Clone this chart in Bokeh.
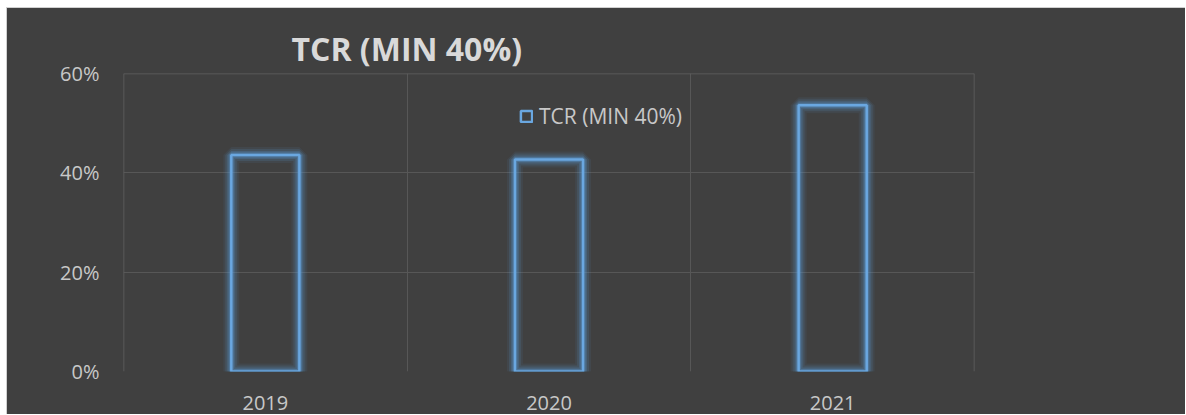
from bokeh.plotting import figure
from bokeh.models import (Range1d, FixedTicker, NumeralTickFormatter, Legend,
                          LegendItem, ColumnDataSource, Span)
from bokeh.embed import file_html
from bokeh.resources import INLINE

years = ["2019", "2020", "2021"]
tcr = [0.436, 0.427, 0.536]
y_ticks = [0.0, 0.2, 0.4, 0.6]
series_name = "TCR (MIN 40%)"

BG = "#404040"
BLUE = "#5B9BD5"
TXT = "#c8c8c8"
GRID = "#575757"
EDGE = "#606060"

xpos = [i + 0.5 for i in range(len(years))]
src = ColumnDataSource(dict(x=xpos, top=tcr, year=years))

xr = Range1d(0, len(years))
yr = Range1d(0, y_ticks[-1])

p = figure(width=1179, height=407, output_backend="svg", toolbar_location=None,
           x_range=xr, y_range=yr,
           background_fill_color=None, border_fill_color=None,
           min_border_left=116, min_border_right=212,
           min_border_top=65, min_border_bottom=44,
           outline_line_color=None, margin=(7, 0, 0, 6),
           styles={"border-top": "1px solid #d0d0d0",
                   "border-left": "1px solid #d0d0d0",
                   "background-color": BG})

# glow layers
for lw, a in [(16, 0.08), (12, 0.14), (8, 0.22), (5, 0.35)]:
    p.vbar(x="x", top="top", width=0.24, bottom=0, source=src,
           fill_alpha=0, line_color=BLUE, line_alpha=a, line_width=lw)
main = p.vbar(x="x", top="top", width=0.24, bottom=0, source=src,
              fill_alpha=0, line_color="#6aa7e0", line_width=2.5)

# axes
p.xaxis[0].ticker = FixedTicker(ticks=xpos)
p.xaxis[0].major_label_overrides = {x: y for x, y in zip(xpos, years)}
p.yaxis[0].ticker = FixedTicker(ticks=y_ticks)
p.yaxis[0].formatter = NumeralTickFormatter(format="0%")
for ax in (p.xaxis[0], p.yaxis[0]):
    ax.axis_line_color = None
    ax.major_tick_line_color = None
    ax.minor_tick_line_color = None
    ax.major_label_text_color = TXT
    ax.major_label_text_font = "Open Sans"
    ax.major_label_text_font_size = "20px"
p.yaxis[0].major_label_standoff = 18
p.xaxis[0].major_label_standoff = 18

# grids
p.xgrid[0].ticker = FixedTicker(ticks=list(range(len(years) + 1)))
p.xgrid[0].grid_line_color = GRID
p.ygrid[0].ticker = FixedTicker(ticks=y_ticks[1:])
p.ygrid[0].grid_line_color = GRID
# edge lines of the plot area (range bounds)
for loc, dim in [(xr.start, "height"), (xr.end, "height"), (yr.end, "width")]:
    p.add_layout(Span(location=loc, dimension=dim, line_color=EDGE, line_width=1.5,
                      level="underlay"))

# title
p.title.text = series_name
p.title.text_font = "Open Sans"
p.title.text_font_style = "bold"
p.title.text_font_size = "32px"
p.title.text_color = "#d9d9d9"
p.title.align = "left"
p.title.offset = 168
p.title.standoff = 8

legend = Legend(items=[LegendItem(label=series_name, renderers=[main])],
                location=(396, 241), padding=0, margin=0,
                glyph_width=14, glyph_height=14, label_standoff=6,
                background_fill_alpha=0, border_line_alpha=0,
                label_text_color=TXT, label_text_font="Open Sans",
                label_text_font_size="21px")
p.add_layout(legend, "center")

open("out.html", "w").write(file_html(p, INLINE))
